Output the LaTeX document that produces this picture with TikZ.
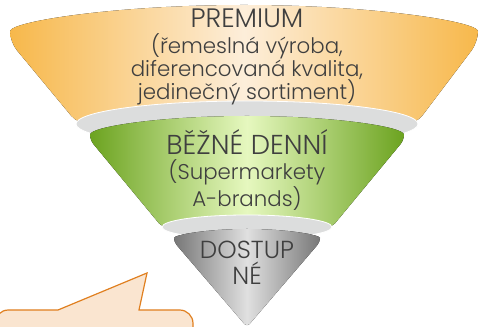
\documentclass[tikz,border=0pt]{standalone}
\usepackage{fontspec}
\setmainfont{Poppins}[UprightFont=* Light]
\usepackage{xcolor}
\usepackage{tikz}

\definecolor{orangeEdge}{HTML}{F7B84B}
\definecolor{orangeMid}{HTML}{FDEEDA}
\definecolor{greenEdge}{HTML}{6CA320}
\definecolor{greenMid}{HTML}{E6F8BF}
\definecolor{greyEdge}{HTML}{777777}
\definecolor{greyMid}{HTML}{E0E0E0}
\definecolor{rimGrey}{HTML}{DCDDDD}
\definecolor{calloutFill}{HTML}{FAE5D0}
\definecolor{calloutLine}{HTML}{E07F1F}
\definecolor{labelGrey}{HTML}{3F3F3F}

\begin{document}
\begin{tikzpicture}[x=0.75pt, y=-0.75pt,
    head/.style={text=labelGrey, font=\fontsize{20}{21}\selectfont, align=center, inner sep=0pt},
    sub/.style={text=labelGrey, font=\fontsize{16}{17.3}\selectfont, align=center, inner sep=0pt},
    rim/.style={fill=rimGrey, draw=white, line width=0.6pt}]

    \useasboundingbox (0,0) rectangle (479,327);

    % funnel, top to bottom
    \fill[left color=orangeEdge, right color=orangeEdge, middle color=orangeMid, rounded corners=8]
        (10,42) arc[start angle=180, end angle=360, x radius=234, y radius=37]
        -- (416,124) -- (78,124) -- cycle;
    \draw[rim] (247,124) ellipse[x radius=171, y radius=23];

    \fill[left color=greenEdge, right color=greenEdge, middle color=greenMid, rounded corners=4]
        (90,140) arc[start angle=180, end angle=360, x radius=157, y radius=24]
        -- (332,227) -- (162,227) -- cycle;
    \draw[rim] (247,227) ellipse[x radius=85, y radius=12];

    \fill[left color=greyEdge, right color=greyEdge, middle color=greyMid, rounded corners=3]
        (174,242) arc[start angle=180, end angle=360, x radius=73, y radius=13]
        -- (247,327) -- cycle;

    % labels
    \node[head] (premium) at (247,18) {PREMIUM};
    \node[sub] (premiumtxt) at (247,69) {(řemeslná výroba,\\diferencovaná kvalita,\\jedinečný sortiment)};
    \node[head, font=\fontsize{20.5}{21}\selectfont] (bezne) at (247,142) {BĚŽNÉ DENNÍ};
    \node[sub, font=\fontsize{16}{15.8}\selectfont] (beznetxt) at (247,185) {(Supermarkety\\A-brands)};
    \node[head, font=\fontsize{18.5}{19.5}\selectfont] (dostupne) at (247,263) {DOSTUP\\NÉ};

    % callout
    \draw[fill=calloutFill, draw=calloutLine, line width=0.9pt]
        (-5,310) -- (58,310) -- (147,273) -- (139,310)
        [rounded corners=10] -- (193,310) -- (193,340) -- (-5,340) -- cycle;
\end{tikzpicture}
\end{document}
